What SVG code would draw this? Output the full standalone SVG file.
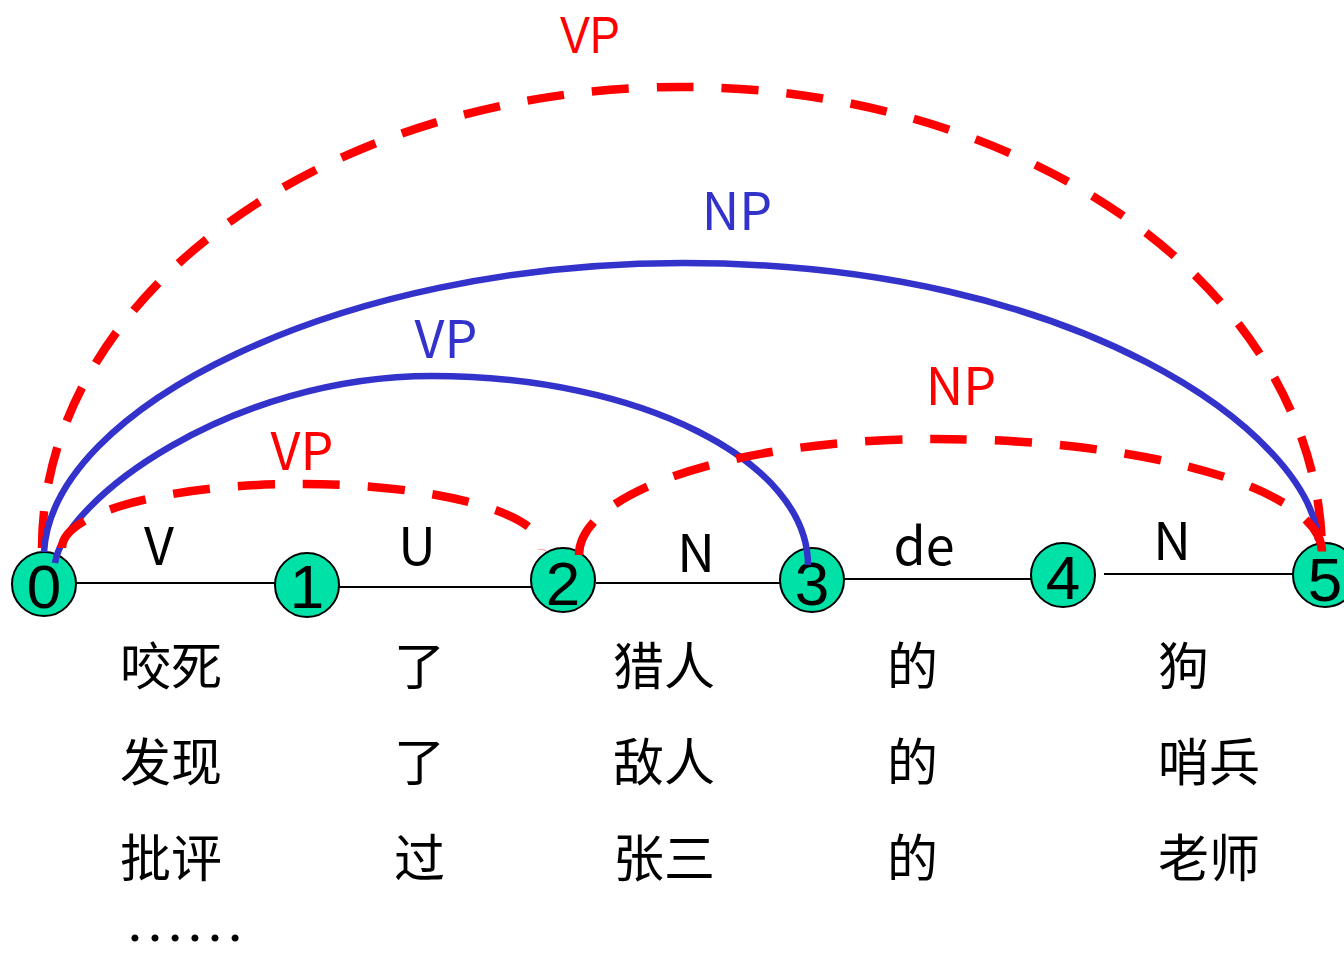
<svg xmlns="http://www.w3.org/2000/svg" width="1344" height="955" viewBox="0 0 1344 955">
<style>
.edge{stroke:#000;stroke-width:2;fill:none}
.node circle{fill:#00E1A8;stroke:#000;stroke-width:2}
.node text{font-family:"Liberation Sans",Arial,sans-serif;font-size:62px;text-anchor:middle;fill:#000}
.lbl{font-family:"Noto Sans CJK SC","Liberation Sans",sans-serif;font-size:52px;text-anchor:middle}
.lbl2{font-family:"Liberation Sans",Arial,sans-serif;font-size:51px;text-anchor:middle}
.blk{fill:#000}
.red{fill:#FF0000}
.blue{fill:#3333CC}
.rarc{stroke:#FF0000;stroke-width:8.5;fill:none;stroke-dasharray:37 28}
.barc{stroke:#3333CC;stroke-width:6.5;fill:none}
.zh{font-family:"Noto Sans CJK SC",sans-serif;font-size:51px;fill:#000}
</style>
<g id="baseline-edges">
<line class="edge" x1="76" y1="583" x2="275" y2="583"/>
<line class="edge" x1="339" y1="587" x2="531" y2="587"/>
<line class="edge" x1="596" y1="583" x2="780" y2="583"/>
<line class="edge" x1="844" y1="579" x2="1031" y2="579"/>
<line class="edge" x1="1104" y1="574" x2="1293" y2="574"/>
</g>
<g id="node0" class="node"><circle cx="44" cy="584" r="32"/><text x="44" y="608">0</text></g>
<g id="node1" class="node"><circle cx="307" cy="585" r="32"/><text x="307" y="608">1</text></g>
<g id="node2" class="node"><circle cx="563" cy="580" r="32"/><text x="563" y="605">2</text></g>
<g id="node3" class="node"><circle cx="812" cy="580" r="32"/><text x="812" y="605">3</text></g>
<g id="node4" class="node"><circle cx="1063" cy="575" r="32"/><text x="1063" y="599">4</text></g>
<g id="node5" class="node"><circle cx="1325" cy="575" r="32"/><text x="1325" y="601">5</text></g>
<g id="connectors">
<path class="rarc" d="M 42 548 A 640 461 0 0 1 682 87 A 640 468 0 0 1 1322 555"/>
<path class="barc" d="M 44 552 C 52 408, 338 263, 683 263 C 1080 263, 1310 435, 1318 540"/>
<path class="barc" d="M 55 563 C 65 500, 230 376, 432 376 C 640 376, 808 461, 808 565"/>
<path class="rarc" d="M 62 548 A 238 64 0 0 1 300 484 A 240 64 0 0 1 542 550"/>
<path class="rarc" d="M 579 555 A 356 116 0 0 1 935 439 A 387 113 0 0 1 1322 552"/>
</g>
<g id="edge-labels">
<text class="lbl blk" x="159" y="565">V</text>
<text class="lbl blk" x="417" y="565">U</text>
<text class="lbl blk" x="696" y="572">N</text>
<text class="lbl blk" x="924" y="565">de</text>
<text class="lbl blk" x="1172" y="560">N</text>
</g>
<g id="arc-labels">
<text class="lbl2 red" x="590" y="53" textLength="60" lengthAdjust="spacingAndGlyphs">VP</text>
<text class="lbl blue" x="737" y="230">NP</text>
<text class="lbl blue" x="446" y="358">VP</text>
<text class="lbl red" x="302" y="470">VP</text>
<text class="lbl red" x="961" y="405">NP</text>
</g>
<g id="words">
<text class="zh" x="120" y="685">咬死</text>
<text class="zh" x="120" y="781">发现</text>
<text class="zh" x="120" y="877">批评</text>
<text x="125" y="941" style="font-family:'Liberation Serif',serif;font-size:60px;fill:#000">……</text>
<text class="zh" x="394" y="685">了</text>
<text class="zh" x="394" y="781">了</text>
<text class="zh" x="394" y="877">过</text>
<text class="zh" x="613" y="685">猎人</text>
<text class="zh" x="613" y="781">敌人</text>
<text class="zh" x="613" y="877">张三</text>
<text class="zh" x="887" y="685">的</text>
<text class="zh" x="887" y="781">的</text>
<text class="zh" x="887" y="877">的</text>
<text class="zh" x="1158" y="685">狗</text>
<text class="zh" x="1158" y="781">哨兵</text>
<text class="zh" x="1158" y="877">老师</text>
</g>
</svg>
